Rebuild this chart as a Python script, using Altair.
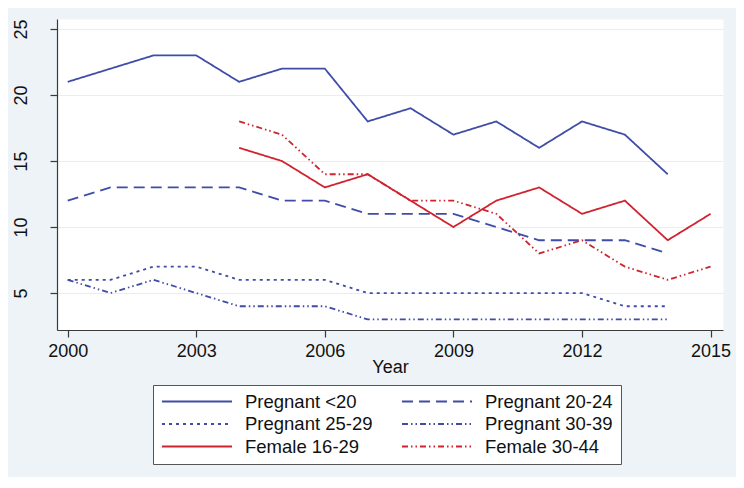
import altair as alt
import pandas as pd

series_names = ["Pregnant <20", "Pregnant 20-24", "Pregnant 25-29",
                "Pregnant 30-39", "Female 16-29", "Female 30-44"]
preg_years = list(range(2000, 2015))
fem_years = list(range(2004, 2016))
preg_lt20 = [21, 22, 23, 23, 21, 22, 22, 18, 19, 17, 18, 16, 18, 17, 14]
preg_20_24 = [12, 13, 13, 13, 13, 12, 12, 11, 11, 11, 10, 9, 9, 9, 8]
preg_25_29 = [6, 6, 7, 7, 6, 6, 6, 5, 5, 5, 5, 5, 5, 4, 4]
preg_30_39 = [6, 5, 6, 5, 4, 4, 4, 3, 3, 3, 3, 3, 3, 3, 3]
fem_16_29 = [16, 15, 13, 14, 12, 10, 12, 13, 11, 12, 9, 11]
fem_30_44 = [18, 17, 14, 14, 12, 12, 11, 8, 9, 7, 6, 7]
x_ticks = [2000, 2003, 2006, 2009, 2012, 2015]
y_ticks = [5, 10, 15, 20, 25]

series_values = [preg_lt20, preg_20_24, preg_25_29, preg_30_39, fem_16_29, fem_30_44]
series_years = [preg_years] * 4 + [fem_years] * 2

BLUE = "#3f4ca8"
RED = "#cf2330"
series_colors = [BLUE, BLUE, BLUE, BLUE, RED, RED]
series_dashes = [[1, 0], [11, 6], [3, 4], [6, 3, 1.5, 3, 1.5, 3], [1, 0], [6, 3, 1.5, 3, 1.5, 3]]

rows = []
for name, yrs, vals in zip(series_names, series_years, series_values):
    for yr, v in zip(yrs, vals):
        rows.append({"Year": yr, "Value": v, "Series": name})
df = pd.DataFrame(rows)

# legend fills columns first: order the domain so it reads row by row
legend_order = [0, 2, 4, 1, 3, 5]
domain = [series_names[i] for i in legend_order]
colors = [series_colors[i] for i in legend_order]
dashes = [series_dashes[i] for i in legend_order]

FONT = "Liberation Sans"

legend = alt.Legend(
    title=None, orient="none", legendX=96, legendY=366, columns=2,
    symbolType="stroke", symbolSize=4900, symbolStrokeWidth=2,
    clipHeight=17, rowPadding=3.5, columnPadding=28, labelOffset=12,
    labelFontSize=18.5, labelFont=FONT, labelColor="#111111", labelLimit=300,
    padding=8, strokeColor="#555555", fillColor="white",
)

chart = alt.Chart(df).mark_line(strokeWidth=1.8, clip=True).encode(
    x=alt.X("Year:Q",
            scale=alt.Scale(domain=[1999.75, 2015.29], nice=False, zero=False),
            axis=alt.Axis(values=x_ticks, format="d", title="Year",
                          grid=False, tickSize=7, labelPadding=5,
                          titleBaseline="alphabetic", titleY=42)),
    y=alt.Y("Value:Q",
            scale=alt.Scale(domain=[2.2, 25.76], nice=False, zero=False),
            axis=alt.Axis(values=y_ticks, title=None, grid=True,
                          tickSize=7, labelAngle=270, labelAlign="center",
                          labelBaseline="bottom", labelPadding=20)),
    color=alt.Color("Series:N", scale=alt.Scale(domain=domain, range=colors),
                    legend=legend),
    strokeDash=alt.StrokeDash("Series:N",
                              scale=alt.Scale(domain=domain, range=dashes),
                              legend=legend),
    detail="Series:N",
).properties(
    width=666, height=311,
    autosize=alt.AutoSizeParams(type="none"),
    padding={"left": 49, "top": 11, "right": 13, "bottom": 147},
    background="#edf3f6",
).configure_view(
    fill="white", strokeOpacity=0,
).configure_axis(
    domainColor="#3a3a3a", domainWidth=1.2, tickColor="#3a3a3a", tickWidth=1.2,
    labelFont=FONT, labelFontSize=18, labelColor="#111111",
    titleFont=FONT, titleFontSize=18, titleFontWeight="normal", titleColor="#111111",
    gridColor="#e6eef2", gridWidth=1,
)

chart.save("out.html", embed_options={"renderer": "svg", "actions": False})
